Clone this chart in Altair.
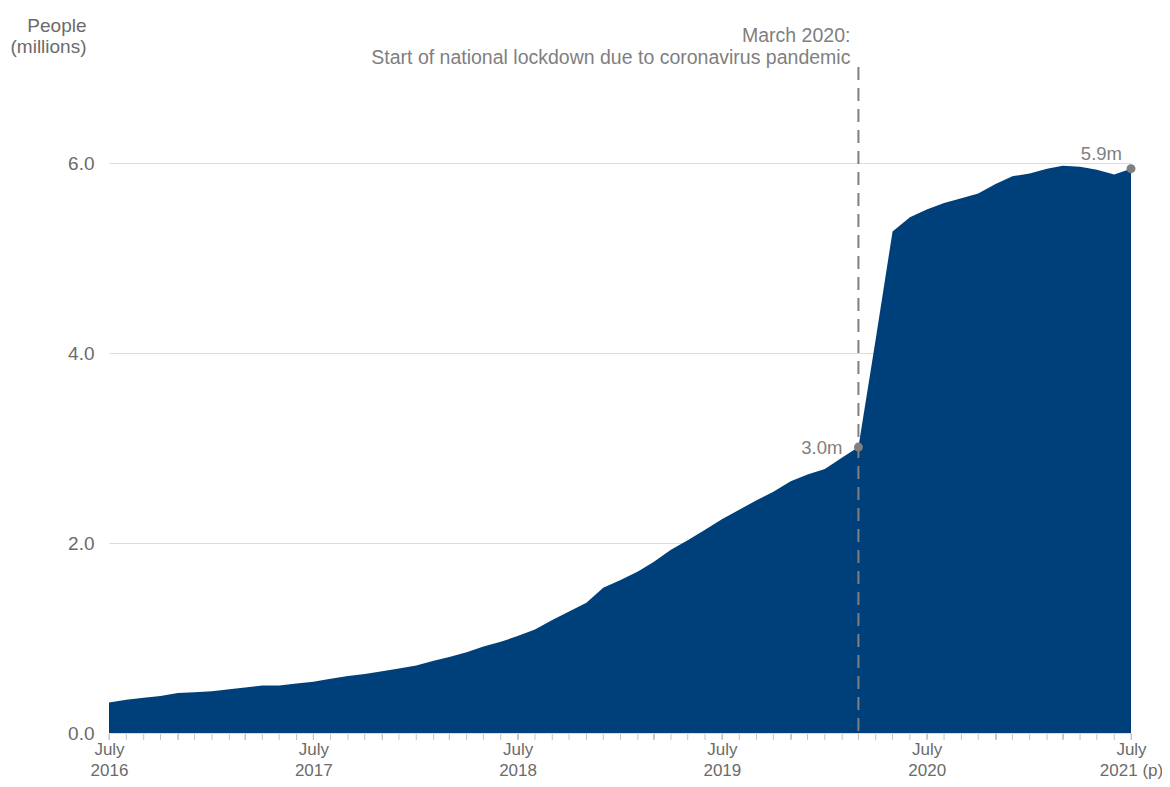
import altair as alt
import pandas as pd

# Monthly dates July 2016 .. July 2021
dates = [f"{2016 + (6 + i) // 12}-{(6 + i) % 12 + 1:02d}-01" for i in range(61)]
people = [
    0.32, 0.35, 0.37, 0.39, 0.42, 0.43, 0.44, 0.46, 0.48, 0.50,
    0.50, 0.52, 0.54, 0.57, 0.60, 0.62, 0.65, 0.68, 0.71, 0.76,
    0.80, 0.85, 0.91, 0.96, 1.02, 1.09, 1.19, 1.28, 1.37, 1.53,
    1.61, 1.70, 1.80, 1.93, 2.03, 2.14, 2.25, 2.35, 2.45, 2.54,
    2.65, 2.72, 2.78, 2.90, 3.01, 4.15, 5.28, 5.43, 5.51, 5.58,
    5.63, 5.68, 5.78, 5.86, 5.89, 5.94, 5.97, 5.96, 5.93, 5.88,
    5.94,
]

marker_dates = ["2020-03-01", "2021-07-01"]
marker_values = [3.01, 5.94]
marker_labels = ["3.0m", "5.9m"]

lockdown_date = ["2020-03-01"]
lockdown_text = [["March 2020:", "Start of national lockdown due to coronavirus pandemic"]]

y_ticks = [0, 2, 4, 6]

df = pd.DataFrame({"date": dates, "people": people})
markers = pd.DataFrame({"date": marker_dates, "people": marker_values, "label": marker_labels})
lock = pd.DataFrame({"date": lockdown_date, "text": lockdown_text})

FONT = "Liberation Sans"
GREY = "#7f7f7f"
TICK = "#c4c4c4"

x_scale = alt.Scale(type="utc", domain=[dates[0], dates[-1]], nice=False)
tick_values = [alt.DateTime(year=int(d[:4]), month=int(d[5:7]), date=1, utc=True) for d in dates]

x_axis = alt.Axis(
    title=None,
    values=tick_values,
    labelExpr="utcmonth(datum.value) == 6 ? ['July', utcyear(datum.value) == 2021 ? '2021 (p)' : '' + utcyear(datum.value)] : ''",
    labelFontSize=17,
    labelLineHeight=21,
    labelColor="#6b6b6b",
    labelFont=FONT,
    labelPadding=2,
    labelOverlap=False,
    labelFlush=False,
    labelBound=False,
    tickColor=TICK,
    tickSize=6,
    tickWidth=1,
    domain=False,
    grid=False,
)

y_axis = alt.Axis(
    title=["People", "(millions)"],
    titleAngle=0,
    titleAlign="right",
    titleBaseline="top",
    titleX=-23,
    titleY=-52,
    titleFont=FONT,
    titleFontSize=19,
    titleFontWeight="normal",
    titleColor="#6b6b6b",
    titleLineHeight=21,
    values=y_ticks,
    format=".1f",
    labelFontSize=19,
    labelFont=FONT,
    labelColor="#6b6b6b",
    labelPadding=15,
    ticks=False,
    domain=False,
    grid=True,
    gridColor="#dcdcdc",
    gridWidth=1,
)

y_scale = alt.Scale(domain=[0, 7], nice=False)

area = alt.Chart(df).mark_area(color="#00407a", opacity=1).encode(
    x=alt.X("date:T", scale=x_scale, axis=x_axis),
    y=alt.Y("people:Q", scale=y_scale, axis=y_axis),
)

# monthly tick marks under the axis
month_ticks = alt.Chart(df).mark_rule(color=TICK, strokeWidth=1).encode(
    x=alt.X("date:T", scale=x_scale),
    y=alt.value(666),
    y2=alt.value(672),
)

rule = alt.Chart(lock).mark_rule(color=GREY, strokeWidth=2, strokeDash=[13, 8]).encode(
    x=alt.X("date:T", scale=x_scale),
    y=alt.value(-1),
    y2=alt.value(665),
)

note = alt.Chart(lock).mark_text(
    align="right", baseline="alphabetic", dx=-8, font=FONT, fontSize=19.5,
    color=GREY, lineHeight=22,
).encode(
    x=alt.X("date:T", scale=x_scale),
    y=alt.value(-26),
    text="text",
)

points = alt.Chart(markers).mark_circle(color=GREY, size=80, opacity=1).encode(
    x=alt.X("date:T", scale=x_scale),
    y=alt.Y("people:Q", scale=y_scale),
)

lbl_mar = alt.Chart(markers).transform_filter(alt.datum.label == "3.0m").mark_text(
    align="right", baseline="middle", dx=-16, dy=1, font=FONT, fontSize=18.5, color=GREY,
).encode(
    x=alt.X("date:T", scale=x_scale),
    y=alt.Y("people:Q", scale=y_scale),
    text="label",
)

lbl_end = alt.Chart(markers).transform_filter(alt.datum.label == "5.9m").mark_text(
    align="right", baseline="alphabetic", dx=-9, dy=-9, font=FONT, fontSize=18.5, color=GREY,
).encode(
    x=alt.X("date:T", scale=x_scale),
    y=alt.Y("people:Q", scale=y_scale),
    text="label",
)

chart = alt.layer(area, month_ticks, rule, note, points, lbl_mar, lbl_end).properties(
    width=1022,
    height=665,
    autosize=alt.AutoSizeParams(type="none"),
    padding={"left": 101, "top": 60, "right": 31, "bottom": 46},
).configure(font=FONT).configure_view(stroke=None)

chart.save("out.html", embed_options={"renderer": "svg", "actions": False})
